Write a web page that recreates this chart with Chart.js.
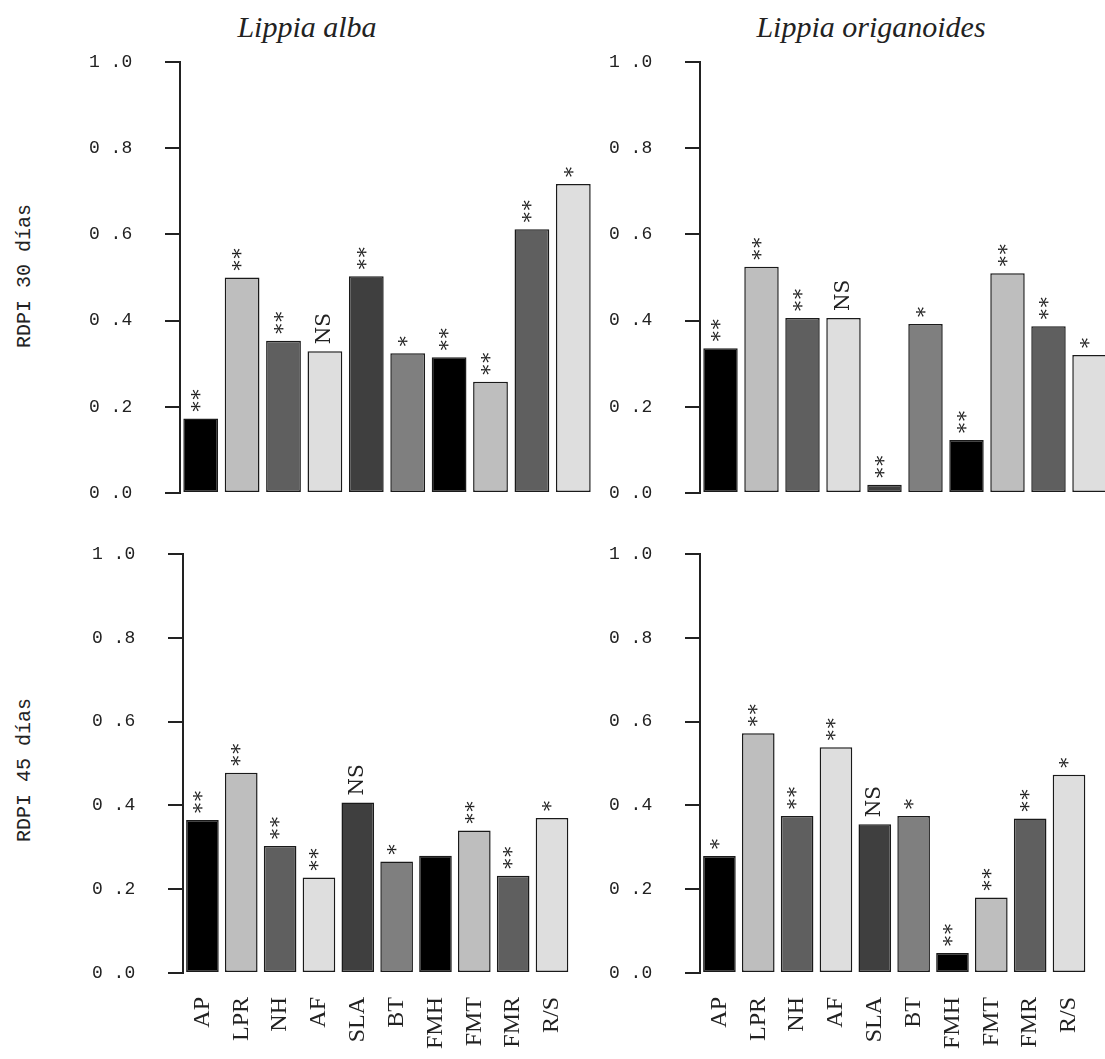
<!DOCTYPE html>
<html>
<head>
<meta charset="utf-8">
<script src="https://cdn.jsdelivr.net/npm/chart.js@4.4.0/dist/chart.umd.min.js"></script>
<style>
  html, body { margin: 0; padding: 0; background: #fff; overflow: hidden; }
  body { width: 1105px; height: 1059px; position: relative; }
  .panel { position: absolute; }
  .title { position: absolute; font: italic 30px "Liberation Serif"; color: #222; transform: translateX(-50%); white-space: nowrap; }
  .rowlab { position: absolute; font: 20px "Liberation Mono"; color: #222; white-space: nowrap; transform: translate(-50%, -50%) rotate(-90deg); }
</style>
</head>
<body>

<div class="title" style="left:307px; top:10px;">Lippia alba</div>
<div class="title" style="left:871px; top:10px;">Lippia origanoides</div>
<div class="rowlab" style="left:24px; top:276px;">RDPI 30 días</div>
<div class="rowlab" style="left:24px; top:770px;">RDPI 45 días</div>

<div class="panel" style="left:80px; top:50px;"><canvas id="c1" width="518" height="455"></canvas></div>
<div class="panel" style="left:600px; top:50px;"><canvas id="c2" width="514" height="455"></canvas></div>
<div class="panel" style="left:83px; top:542px;"><canvas id="c3" width="514" height="517"></canvas></div>
<div class="panel" style="left:600px; top:542px;"><canvas id="c4" width="514" height="517"></canvas></div>

<script>
// variables (same order in every panel)
const categories = ['AP', 'LPR', 'NH', 'AF', 'SLA', 'BT', 'FMH', 'FMT', 'FMR', 'R/S'];

// Lippia alba, 30 dias
const albaRdpi30 = [0.173, 0.500, 0.353, 0.329, 0.503, 0.324, 0.315, 0.258, 0.612, 0.717];
const albaSig30  = ['**', '**', '**', 'NS', '**', '*', '**', '**', '**', '*'];
// Lippia origanoides, 30 dias
const origRdpi30 = [0.336, 0.525, 0.406, 0.406, 0.019, 0.392, 0.123, 0.510, 0.387, 0.320];
const origSig30  = ['**', '**', '**', 'NS', '**', '*', '**', '**', '**', '*'];
// Lippia alba, 45 dias
const albaRdpi45 = [0.365, 0.478, 0.303, 0.228, 0.407, 0.266, 0.280, 0.340, 0.232, 0.370];
const albaSig45  = ['**', '**', '**', '**', 'NS', '*', '', '**', '**', '*'];
// Lippia origanoides, 45 dias
const origRdpi45 = [0.279, 0.572, 0.375, 0.539, 0.355, 0.375, 0.048, 0.180, 0.369, 0.473];
const origSig45  = ['*', '**', '**', '**', 'NS', '*', '**', '**', '**', '*'];

const barGrays = ['#000000', '#bebebe', '#5f5f5f', '#dedede', '#3f3f3f', '#7f7f7f', '#000000', '#bebebe', '#5f5f5f', '#dedede'];

// draws the significance marks, rotated, above each bar
const sigMarks = {
  id: 'sigMarks',
  afterDatasetsDraw(chart, args, opts) {
    var ctx = chart.ctx;
    var meta = chart.getDatasetMeta(0);
    ctx.save();
    ctx.font = '20px "DejaVu Serif"';
    ctx.fillStyle = '#222';
    ctx.textAlign = 'left';
    ctx.textBaseline = 'middle';
    meta.data.forEach(function(bar, i) {
      var txt = opts.labels[i];
      if (!txt) return;
      ctx.save();
      ctx.letterSpacing = txt.charAt(0) == '*' ? '2px' : '0px';
      ctx.translate(bar.x, bar.y - 7);
      ctx.rotate(-Math.PI / 2);
      ctx.fillText(txt, 0, 0);
      ctx.restore();
    });
    ctx.restore();
  }
};

function panel(id, values, sigs, showLabels) {
  var ctx = document.getElementById(id).getContext('2d');
  return new Chart(ctx, {
    type: 'bar',
    data: {
      labels: categories,
      datasets: [{
        data: values,
        backgroundColor: barGrays,
        borderColor: '#1a1a1a',
        borderWidth: 1.5,
        borderSkipped: false,
        barPercentage: 0.84,
        categoryPercentage: 1.0
      }]
    },
    options: {
      responsive: false,
      animation: false,
      layout: { padding: { top: 12, bottom: showLabels ? 0 : 12, right: 4, left: 9 } },
      plugins: {
        legend: { display: false },
        tooltip: { enabled: false },
        sigMarks: { labels: sigs }
      },
      scales: {
        x: {
          offset: true,
          grid: { display: false },
          border: { display: false },
          afterFit: function(s) { s.height = showLabels ? 86 : 0; },
          ticks: {
            display: showLabels,
            minRotation: 90, maxRotation: 90, padding: 16,
            color: '#222',
            font: { family: 'Liberation Serif', size: 24 }
          }
        },
        y: {
          min: 0, max: 1,
          afterFit: function(s) { s.width = 91; },
          border: { display: true, color: '#222', width: 2 },
          grid: { drawOnChartArea: false, drawTicks: true, tickLength: 15, color: '#222', lineWidth: 2 },
          ticks: {
            stepSize: 0.2, padding: 0, crossAlign: 'far', color: '#222',
            font: { family: 'Liberation Mono', size: 18 },
            callback: function(v) { return v.toFixed(1).replace('.', ' .'); }
          }
        }
      }
    },
    plugins: [sigMarks]
  });
}

panel('c1', albaRdpi30, albaSig30, false);
panel('c2', origRdpi30, origSig30, false);
panel('c3', albaRdpi45, albaSig45, true);
panel('c4', origRdpi45, origSig45, true);
</script>
</body>
</html>
